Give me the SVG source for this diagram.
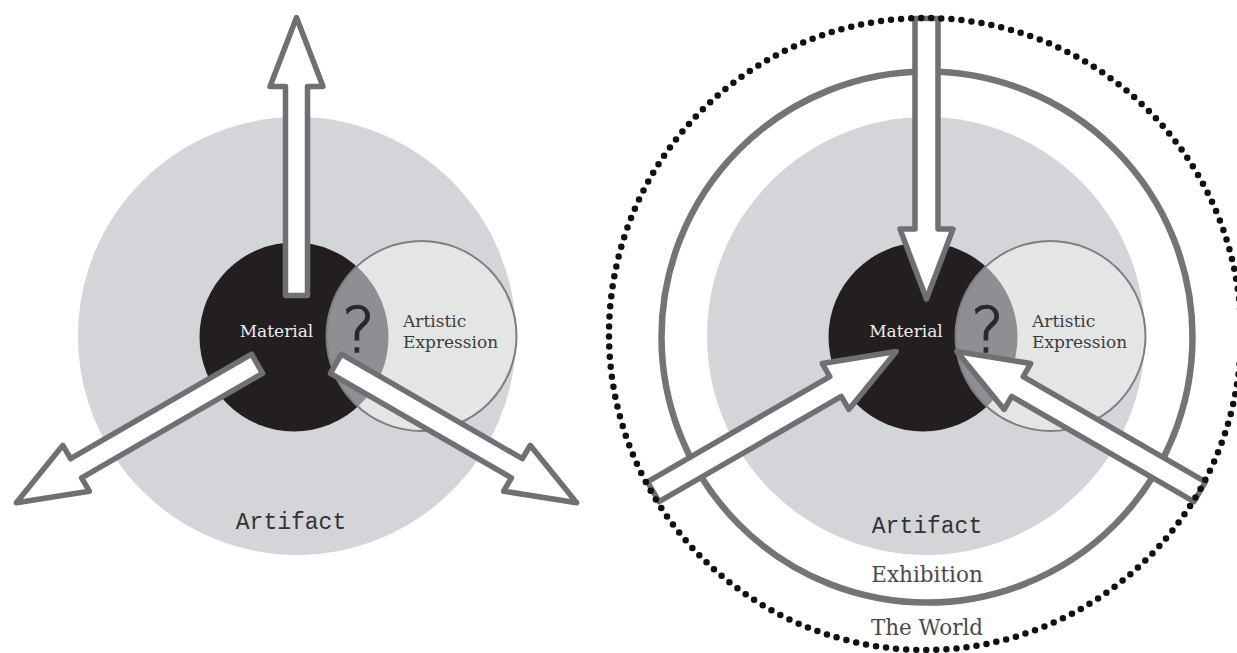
<svg xmlns="http://www.w3.org/2000/svg" width="1237" height="653" viewBox="0 0 1237 653">
<style>
.art{fill:#d4d5d8}
.mat{fill:#231f20}
.exp{fill:#e4e6e5}
.ov{fill:#8e8f93}
.expline{fill:none;stroke:#7e7f83;stroke-width:2}
.arrow{fill:#ffffff;stroke:#6f7074;stroke-width:5.5;stroke-linejoin:round}
.ring{fill:none;stroke:#737478;stroke-width:6.5}
.dots{fill:none;stroke:#111111;stroke-width:6.5;stroke-linecap:round;stroke-dasharray:0 10.1}
.lbl{font-family:"DejaVu Serif","Liberation Serif",serif}
.white{fill:#ececec;font-size:17px}
.dark{fill:#3c3c3f;font-size:17px}
.mono{font-family:"Liberation Mono","DejaVu Sans Mono",monospace;font-size:23px;fill:#333335}
.big{fill:#4a4a4d;font-size:21.5px}
.q{font-family:"DejaVu Sans","Liberation Sans",sans-serif;font-weight:200;font-size:62px;fill:#2a2a2c;stroke:#2a2a2c;stroke-width:1.6}
</style>
<defs>
<path id="outArrow" d="M -11,-45.5 L -11,-254.5 L -26.5,-254.5 L 0,-323.5 L 26.5,-254.5 L 11,-254.5 L 11,-45.5 Z"/>
<path id="inArrow" d="M -11.5,-315.5 L -11.5,-105 L -26.5,-105 L 0,-35 L 26.5,-105 L 11.5,-105 L 11.5,-315.5 Z"/>
<clipPath id="clipL"><circle cx="421.5" cy="336" r="95"/></clipPath>
<clipPath id="clipR"><circle cx="1050.5" cy="336" r="95"/></clipPath>
</defs>

<!-- Left diagram -->
<g id="left-artifact">
<circle class="art" cx="297" cy="336" r="219"/>
<text class="mono" x="291" y="529" text-anchor="middle">Artifact</text>
</g>
<g id="left-material">
<circle class="mat" cx="294" cy="337" r="94.5"/>
</g>
<g id="left-expression">
<circle class="exp" cx="421.5" cy="336" r="95"/>
<circle class="ov" cx="294" cy="337" r="94.5" clip-path="url(#clipL)"/>
<circle class="expline" cx="421.5" cy="336" r="95"/>
<text class="lbl dark" x="403" y="327">Artistic</text>
<text class="lbl dark" x="403" y="348">Expression</text>
</g>
<g id="left-question">
<text class="q" x="358.5" y="352" text-anchor="middle">?</text>
</g>
<g id="left-material-label">
<text class="lbl white" x="276.5" y="337" text-anchor="middle">Material</text>
</g>
<g id="left-connectors">
<use href="#outArrow" class="arrow" transform="translate(296.5,341)"/>
<use href="#outArrow" class="arrow" transform="translate(296.5,341) rotate(-120)"/>
<use href="#outArrow" class="arrow" transform="translate(296.5,341) rotate(120)"/>
</g>

<!-- Right diagram -->
<g id="right-world">
<text class="lbl big" x="927" y="635" text-anchor="middle">The World</text>
</g>
<g id="right-exhibition">
<circle class="ring" cx="927" cy="337" r="265.5"/>
<text class="lbl big" x="927" y="582" text-anchor="middle">Exhibition</text>
</g>
<g id="right-artifact">
<circle class="art" cx="926" cy="336" r="219"/>
<text class="mono" x="927" y="533" text-anchor="middle">Artifact</text>
</g>
<g id="right-material">
<circle class="mat" cx="923" cy="337" r="94.5"/>
</g>
<g id="right-expression">
<circle class="exp" cx="1050.5" cy="336" r="95"/>
<circle class="ov" cx="923" cy="337" r="94.5" clip-path="url(#clipR)"/>
<circle class="expline" cx="1050.5" cy="336" r="95"/>
<text class="lbl dark" x="1032" y="327">Artistic</text>
<text class="lbl dark" x="1032" y="348">Expression</text>
</g>
<g id="right-question">
<text class="q" x="987.5" y="352" text-anchor="middle">?</text>
</g>
<g id="right-material-label">
<text class="lbl white" x="906" y="337" text-anchor="middle">Material</text>
</g>
<g id="right-connectors">
<use href="#inArrow" class="arrow" transform="translate(926.5,334)"/>
<use href="#inArrow" class="arrow" transform="translate(926.5,334) rotate(-120)"/>
<use href="#inArrow" class="arrow" transform="translate(926.5,334) rotate(120)"/>
</g>
<g id="right-world-boundary">
<circle class="dots" cx="925" cy="334" r="316"/>
</g>
</svg>
